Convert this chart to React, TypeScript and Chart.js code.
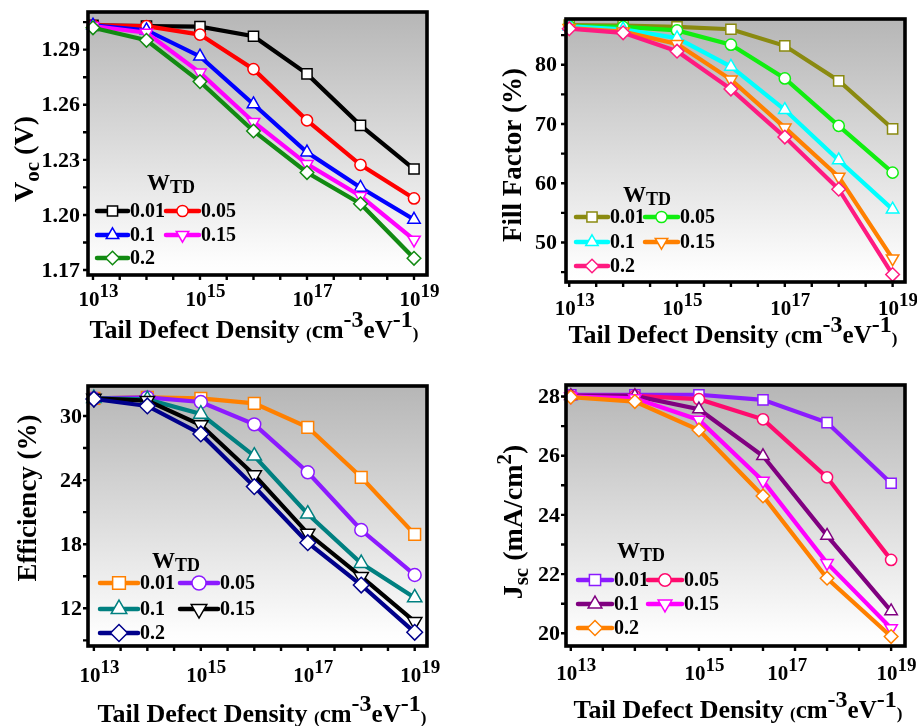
import React, { useEffect, useRef } from 'react';
import { Chart, registerables } from 'chart.js';
Chart.register(...registerables);

const FONT = '"Liberation Serif", "Times New Roman", Times, serif';

// ---------- data ----------
const wtdLabels = ['0.01', '0.05', '0.1', '0.15', '0.2'];
const decadeX = [13, 14, 15, 16, 17, 18, 19];
const jscX = [13, 14.2, 15.4, 16.6, 17.8, 19];

const vocW001 = [1.3032, 1.3028, 1.3025, 1.2973, 1.2768, 1.2488, 1.225];
const vocW005 = [1.3032, 1.3028, 1.2982, 1.2794, 1.2515, 1.2273, 1.209];
const vocW01 = [1.3032, 1.3006, 1.2863, 1.2603, 1.2341, 1.2149, 1.1975];
const vocW015 = [1.3028, 1.2992, 1.2775, 1.2506, 1.2277, 1.2103, 1.1865];
const vocW02 = [1.3019, 1.2951, 1.2726, 1.2457, 1.2231, 1.2061, 1.1764];

const ffW001 = [86.7, 86.6, 86.4, 86.0, 83.2, 77.3, 69.2];
const ffW005 = [86.5, 86.4, 85.8, 83.4, 77.7, 69.7, 61.8];
const ffW01 = [86.5, 86.0, 84.5, 79.7, 72.4, 63.9, 55.6];
const ffW015 = [86.2, 85.6, 83.5, 77.5, 69.4, 61.1, 47.3];
const ffW02 = [86.1, 85.4, 82.3, 75.9, 67.8, 59.0, 44.6];

const effW001 = [31.65, 31.75, 31.65, 31.19, 28.94, 24.26, 18.92];
const effW005 = [31.65, 31.75, 31.31, 29.22, 24.73, 19.33, 15.12];
const effW01 = [31.65, 31.56, 30.19, 26.26, 20.83, 16.21, 12.99];
const effW015 = [31.65, 31.44, 29.16, 24.48, 19.02, 14.96, 10.75];
const effW02 = [31.59, 30.94, 28.32, 23.39, 18.14, 14.18, 9.75];

const jscW001 = [28.06, 28.06, 28.06, 27.89, 27.12, 25.07];
const jscW005 = [28.02, 28.02, 27.91, 27.23, 25.27, 22.48];
const jscW01 = [28.02, 28.02, 27.57, 25.99, 23.3, 20.75];
const jscW015 = [28.0, 27.94, 27.21, 25.15, 22.37, 20.17];
const jscW02 = [27.98, 27.83, 26.87, 24.64, 21.86, 19.89];

const vocMajor = [1.17, 1.2, 1.23, 1.26, 1.29];
const vocMinor = [1.185, 1.215, 1.245, 1.275, 1.305];
const ffMajor = [50, 60, 70, 80];
const ffMinor = [45, 55, 65, 75, 85];
const effMajor = [12, 18, 24, 30];
const effMinor = [9, 15, 21, 27];
const jscMajor = [20, 22, 24, 26, 28];
const jscMinor = [21, 23, 25, 27];

const decadeTicks = [13, 13.5, 14, 14.5, 15, 15.5, 16, 16.5, 17, 17.5, 18, 18.5, 19];
const jscTicks = [13, 13.6, 14.2, 14.8, 15.4, 16, 16.6, 17.2, 17.8, 18.4, 19];
const xLabelExp = ['13', '15', '17', '19'];
const decadeLabelAt = [13, 15, 17, 19];
const jscLabelAt = [13, 15.4, 16.95, 19];

// ---------- styles ----------
const pointStyles = ['rect', 'circle', 'triangle', 'triangleDown', 'rectRot'];
const baseRadius = [7.2, 5.6, 7.2, 7.2, 6.8];

type Seg = { t: string; s: number; dy?: number };

const xTitle: Seg[] = [
  { t: 'Tail Defect Density ', s: 26 },
  { t: '(', s: 17, dy: 1 },
  { t: 'cm', s: 25 },
  { t: '-3', s: 24, dy: -11 },
  { t: 'eV', s: 25 },
  { t: '-1', s: 24, dy: -11 },
  { t: ')', s: 17, dy: 1 },
];

interface Panel {
  pos: [number, number, number, number];
  area: [number, number, number, number];
  xs: number[];
  series: number[][];
  colors: string[];
  rScale: number;
  xMin: number; xMax: number; yMin: number; yMax: number;
  yMajor: number[]; yMinor: number[]; yDigits: number;
  xTicks: number[]; xLabelAt: number[];
  yLabGap: number; xLabDy: number; xTitleDy: number; xTitleCx: number;
  yTitle: Seg[]; yTitleX: number; yTitleY: number;
  lg: { tx: number; tb: number; rows: number[]; c1: [number, number]; c2: [number, number]; ms: number };
}

const panels: Panel[] = [
  {
    pos: [0, 0, 458, 363],
    area: [88, 12, 427, 275],
    xs: decadeX,
    series: [vocW001, vocW005, vocW01, vocW015, vocW02],
    colors: ['#000000', '#ff0000', '#0000ff', '#ff00ff', '#128a12'],
    rScale: 1,
    xMin: 12.907, xMax: 19.243, yMin: 1.1673, yMax: 1.3105,
    yMajor: vocMajor, yMinor: vocMinor, yDigits: 2,
    xTicks: decadeTicks, xLabelAt: decadeLabelAt,
    yLabGap: 8, xLabDy: 31, xTitleDy: 63, xTitleCx: 254,
    yTitle: [{ t: 'V', s: 28 }, { t: 'oc', s: 21, dy: 6 }, { t: ' (V)', s: 28 }],
    yTitleX: 33, yTitleY: 159,
    lg: { tx: 59, tb: -85, rows: [-64, -40, -17], c1: [9, 40], c2: [78, 111], ms: 1 },
  },
  {
    pos: [458, 0, 459, 363],
    area: [108, 19, 447, 282],
    xs: decadeX,
    series: [ffW001, ffW005, ffW01, ffW015, ffW02],
    colors: ['#8a8a10', '#10ee10', '#00ffff', '#ff8000', '#ff1a80'],
    rScale: 1,
    xMin: 12.94, xMax: 19.23, yMin: 43.34, yMax: 87.73,
    yMajor: ffMajor, yMinor: ffMinor, yDigits: 0,
    xTicks: decadeTicks, xLabelAt: decadeLabelAt,
    yLabGap: 9, xLabDy: 33, xTitleDy: 61, xTitleCx: 275,
    yTitle: [{ t: 'Fill Factor (%)', s: 27 }],
    yTitleX: 63, yTitleY: 155,
    lg: { tx: 57, tb: -80, rows: [-65, -40, -16], c1: [10, 42], c2: [79, 112], ms: 1 },
  },
  {
    pos: [0, 363, 458, 363],
    area: [88, 23, 427, 283],
    xs: decadeX,
    series: [effW001, effW005, effW01, effW015, effW02],
    colors: ['#ff8000', '#8c1aff', '#008080', '#000000', '#00008b'],
    rScale: 1.15,
    xMin: 12.89, xMax: 19.23, yMin: 8.47, yMax: 32.81,
    yMajor: effMajor, yMinor: effMinor, yDigits: 0,
    xTicks: decadeTicks, xLabelAt: decadeLabelAt,
    yLabGap: 6, xLabDy: 36, xTitleDy: 76, xTitleCx: 262,
    yTitle: [{ t: 'Efficiency (%)', s: 27 }],
    yTitleX: 36, yTitleY: 135,
    lg: { tx: 64, tb: -78, rows: [-63, -37, -13], c1: [12, 50], c2: [92, 130], ms: 1.25 },
  },
  {
    pos: [458, 363, 459, 363],
    area: [108, 22, 447, 283],
    xs: jscX,
    series: [jscW001, jscW005, jscW01, jscW015, jscW02],
    colors: ['#8c1aff', '#ff0a6e', '#800080', '#ff00ff', '#ff8000'],
    rScale: 1,
    xMin: 12.91, xMax: 19.26, yMin: 19.57, yMax: 28.39,
    yMajor: jscMajor, yMinor: jscMinor, yDigits: 0,
    xTicks: jscTicks, xLabelAt: jscLabelAt,
    yLabGap: 6, xLabDy: 34, xTitleDy: 72, xTitleCx: 280,
    yTitle: [
      { t: 'J', s: 28 }, { t: 'sc', s: 21, dy: 6 }, { t: ' (mA/cm', s: 28 },
      { t: '2', s: 21, dy: -11 }, { t: ')', s: 28 },
    ],
    yTitleX: 64, yTitleY: 159,
    lg: { tx: 51, tb: -88, rows: [-66, -42, -18], c1: [12, 46], c2: [82, 116], ms: 1.1 },
  },
];

// ---------- drawing helpers ----------
function segsWidth(ctx: CanvasRenderingContext2D, segs: Seg[]) {
  let w = 0;
  for (const s of segs) {
    ctx.font = `bold ${s.s}px ${FONT}`;
    w += ctx.measureText(s.t).width;
  }
  return w;
}
function drawSegs(ctx: CanvasRenderingContext2D, segs: Seg[], x: number, y: number) {
  let cx = x;
  for (const s of segs) {
    ctx.font = `bold ${s.s}px ${FONT}`;
    ctx.fillText(s.t, cx, y + (s.dy || 0));
    cx += ctx.measureText(s.t).width;
  }
}
function drawMarker(ctx: CanvasRenderingContext2D, style: string, x: number, y: number, r: number, color: string) {
  ctx.beginPath();
  if (style === 'rect') {
    const h = r * Math.SQRT1_2;
    ctx.rect(x - h, y - h, 2 * h, 2 * h);
  } else if (style === 'circle') {
    ctx.arc(x, y, r, 0, Math.PI * 2);
  } else if (style === 'triangle' || style === 'triangleDown') {
    const d = style === 'triangle' ? 1 : -1;
    ctx.moveTo(x, y - d * r);
    ctx.lineTo(x + r * Math.sin(Math.PI * 2 / 3), y + d * r * 0.5);
    ctx.lineTo(x - r * Math.sin(Math.PI * 2 / 3), y + d * r * 0.5);
    ctx.closePath();
  } else {
    ctx.moveTo(x, y - r);
    ctx.lineTo(x + r, y);
    ctx.lineTo(x, y + r);
    ctx.lineTo(x - r, y);
    ctx.closePath();
  }
  ctx.fillStyle = '#ffffff';
  ctx.fill();
  ctx.strokeStyle = color;
  ctx.lineWidth = 1.5;
  ctx.stroke();
}

function makeDeco(p: Panel) {
  return {
    id: 'deco',
    beforeDatasetsDraw(chart: any) {
      const { ctx, chartArea: a } = chart;
      const g = ctx.createLinearGradient(0, a.top, 0, a.bottom);
      g.addColorStop(0, '#b6b6b6');
      g.addColorStop(0.95, '#fdfdfd');
      g.addColorStop(1, '#ffffff');
      ctx.save();
      ctx.fillStyle = g;
      ctx.fillRect(a.left, a.top, a.right - a.left, a.bottom - a.top);
      ctx.restore();
    },
    afterDatasetsDraw(chart: any) {
      const { ctx, chartArea: a } = chart;
      const xs = chart.scales.x;
      const ys = chart.scales.y;
      ctx.save();
      ctx.fillStyle = '#000';
      ctx.strokeStyle = '#000';
      // ticks
      ctx.lineWidth = 2.4;
      ctx.beginPath();
      for (const v of [...p.yMajor, ...p.yMinor]) {
        const y = ys.getPixelForValue(v);
        ctx.moveTo(a.left - 5, y);
        ctx.lineTo(a.left, y);
      }
      for (const v of p.xTicks) {
        const x = xs.getPixelForValue(v);
        ctx.moveTo(x, a.bottom);
        ctx.lineTo(x, a.bottom + 5);
      }
      ctx.stroke();
      // frame
      ctx.lineWidth = 3.6;
      ctx.strokeRect(a.left, a.top, a.right - a.left, a.bottom - a.top);
      // y tick labels
      ctx.font = `bold 22px ${FONT}`;
      ctx.textAlign = 'right';
      ctx.textBaseline = 'middle';
      for (const v of p.yMajor) {
        ctx.fillText(v.toFixed(p.yDigits), a.left - p.yLabGap, ys.getPixelForValue(v) + 1);
      }
      // x tick labels
      ctx.textAlign = 'left';
      ctx.textBaseline = 'alphabetic';
      p.xLabelAt.forEach((v, i) => {
        const x = xs.getPixelForValue(v) - 4;
        ctx.font = `bold 21px ${FONT}`;
        const w = ctx.measureText('10').width;
        ctx.fillText('10', x - w / 2, a.bottom + p.xLabDy);
        ctx.font = `bold 19px ${FONT}`;
        ctx.fillText(xLabelExp[i], x + w / 2, a.bottom + p.xLabDy - 9);
      });
      // x title
      const tw = segsWidth(ctx, xTitle);
      drawSegs(ctx, xTitle, p.xTitleCx - tw / 2, a.bottom + p.xTitleDy);
      // y title
      ctx.save();
      ctx.translate(p.yTitleX, p.yTitleY);
      ctx.rotate(-Math.PI / 2);
      const yw = segsWidth(ctx, p.yTitle);
      drawSegs(ctx, p.yTitle, -yw / 2, 0);
      ctx.restore();
      // legend
      const L = a.left;
      const B = a.bottom;
      const lg = p.lg;
      drawSegs(ctx, [{ t: 'W', s: 23 }, { t: 'TD', s: 18, dy: 3 }], L + lg.tx, B + lg.tb);
      const slots: [number, number][] = [[0, 0], [1, 0], [0, 1], [1, 1], [0, 2]];
      slots.forEach(([col, row], i) => {
        const [x0, x1] = col === 0 ? lg.c1 : lg.c2;
        const y = B + lg.rows[row];
        ctx.strokeStyle = p.colors[i];
        ctx.lineWidth = 4.5;
        ctx.lineCap = 'round';
        ctx.beginPath();
        ctx.moveTo(L + x0, y);
        ctx.lineTo(L + x1, y);
        ctx.stroke();
        drawMarker(ctx, pointStyles[i], L + (x0 + x1) / 2, y, baseRadius[i] * lg.ms, p.colors[i]);
        ctx.fillStyle = '#000';
        ctx.font = `bold 20px ${FONT}`;
        ctx.textBaseline = 'middle';
        ctx.fillText(wtdLabels[i], L + x1 + 2, y + 1);
        ctx.textBaseline = 'alphabetic';
      });
      ctx.restore();
    },
  };
}

function PanelChart({ p }: { p: Panel }) {
  const ref = useRef<HTMLCanvasElement>(null);
  useEffect(() => {
    const canvas = ref.current!;
    const [, , W, H] = p.pos;
    const [L, T, R, B] = p.area;
    const datasets = p.series.map((vals, i) => ({
      label: wtdLabels[i],
      data: vals.map((y, k) => ({ x: p.xs[k], y })),
      borderColor: p.colors[i],
      backgroundColor: '#ffffff',
      borderWidth: 4.2,
      pointStyle: pointStyles[i] === 'triangleDown' ? 'triangle' : pointStyles[i],
      pointRotation: pointStyles[i] === 'triangleDown' ? 180 : 0,
      pointRadius: baseRadius[i] * p.rScale,
      pointBackgroundColor: '#ffffff',
      pointBorderColor: p.colors[i],
      pointBorderWidth: 1.5,
      tension: 0,
      clip: false as any,
      order: 4 - i,
    }));
    const chart = new Chart(canvas, {
      type: 'line',
      data: { datasets: datasets as any },
      options: {
        animation: false,
        responsive: false,
        events: [],
        layout: { padding: { left: L, top: T, right: W - R, bottom: H - B } },
        plugins: { legend: { display: false }, tooltip: { enabled: false } },
        scales: {
          x: { type: 'linear', display: false, min: p.xMin, max: p.xMax },
          y: { type: 'linear', display: false, min: p.yMin, max: p.yMax },
        },
      },
      plugins: [makeDeco(p)],
    });
    return () => chart.destroy();
  }, [p]);
  const [x, y, w, h] = p.pos;
  return (
    <canvas
      ref={ref}
      width={w}
      height={h}
      style={{ position: 'absolute', left: x, top: y, width: w, height: h }}
    />
  );
}

export default function App() {
  return (
    <div style={{ position: 'absolute', left: 0, top: 0, width: 917, height: 726, background: '#ffffff', overflow: 'hidden' }}>
      {panels.map((p, i) => (
        <PanelChart key={i} p={p} />
      ))}
    </div>
  );
}
